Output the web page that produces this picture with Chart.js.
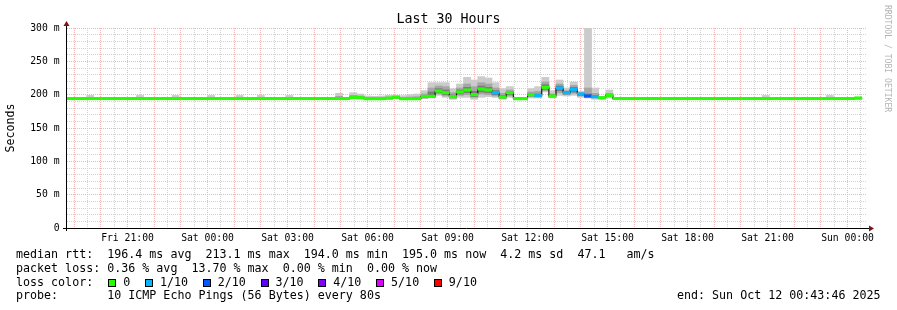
<!DOCTYPE html>
<html>
<head>
<meta charset="utf-8">
<title>Last 30 Hours</title>
<script src="https://cdn.jsdelivr.net/npm/chart.js@4.4.1/dist/chart.umd.min.js"></script>
<style>
  body { margin: 0; background: #fff; }
  #wrap { position: relative; width: 897px; height: 310px; font-family: 'DejaVu Sans Mono', monospace; color: #000; overflow: hidden; }
  #chart { position: absolute; left: 0; top: 0; }
  #title { position: absolute; left: 0; top: 11.4px; width: 897px; text-align: center; font-size: 13.3px; line-height: 16px; }
  .line { position: absolute; left: 16px; font-size: 11.66px; line-height: 13.8px; white-space: pre; display: flex; align-items: flex-start; }
  .box { display: inline-block; width: 6px; height: 6px; border: 1px solid #000; margin-top: 3.7px; margin-right: 7px; }
  .lbl { margin-right: 14.7px; }
  #end { position: absolute; left: 677px; top: 289.4px; font-size: 11.66px; line-height: 13.8px; white-space: pre; }
  #mark { position: absolute; left: 882.5px; top: 5px; writing-mode: vertical-rl; font-size: 8.1px; line-height: 10px; color: #b4b4b4; white-space: pre; }
</style>
</head>
<body>
<div id="wrap">
  <canvas id="chart" width="897" height="310"></canvas>
  <div id="title">Last 30 Hours</div>
  <div class="line" style="top:248.1px">median rtt:  196.4 ms avg  213.1 ms max  194.0 ms min  195.0 ms now  4.2 ms sd  47.1   am/s</div>
  <div class="line" style="top:261.8px">packet loss: 0.36 % avg  13.70 % max  0.00 % min  0.00 % now</div>
  <div class="line" id="lossLine" style="top:275.6px"><span style="margin-right:15.1px">loss color:</span></div>
  <div class="line" style="top:289.4px">probe:       10 ICMP Echo Pings (56 Bytes) every 80s</div>
  <div id="end">end: Sun Oct 12 00:43:46 2025</div>
  <div id="mark">RRDTOOL / TOBI OETIKER</div>
</div>
<script>
// Time window (hours since Fri 00:00): Fri 18:43:46 .. Sun 00:43:46
const viewStart = 18 + 43 / 60 + 46 / 3600;
const viewEnd = viewStart + 30;
// 16-minute consolidation slots, first one starts Fri 18:40
const firstSlotMinutes = 18 * 60 + 40;
const slotMinutes = 16;

// x axis labels
const xTickHours = [21, 24, 27, 30, 33, 36, 39, 42, 45, 48];
const xTickLabels = ['Fri 21:00', 'Sat 00:00', 'Sat 03:00', 'Sat 06:00', 'Sat 09:00',
                     'Sat 12:00', 'Sat 15:00', 'Sat 18:00', 'Sat 21:00', 'Sun 00:00'];
// y axis labels (ms)
const yTickValues = [0, 50, 100, 150, 200, 250, 300];
const yTickLabels = ['0', '50 m', '100 m', '150 m', '200 m', '250 m', '300 m'];

// loss legend
const lossLevels = [0, 1, 2, 3, 4, 5, 9];
const lossLabels = ['0', '1/10', '2/10', '3/10', '4/10', '5/10', '9/10'];
const lossColors = ['#26ff00', '#00b8ff', '#0059ff', '#5e00ff', '#7e00ff', '#dd00ff', '#ff0000'];

// median rtt per slot (ms)
const median = [
  194.2,194.2,194.2,194.2,194.2,194.2,194.2,194.2,194.2,194.2,
  194.2,194.2,194.2,194.2,194.2,194.2,194.2,194.2,194.2,194.2,
  194.2,194.2,194.2,194.2,194.2,194.2,194.2,194.2,194.2,194.2,
  194.2,194.2,194.2,194.2,194.2,194.2,194.2,194.2,194.2,194.2,
  196,195.5,194,194,194,194.8,196.2,194,194,194,
  197.5,197.5,205.5,203,197,204,207,200,208.5,207,
  203,196.5,203,194,194,200,198.5,211,198,210,
  203,208,201,198,197,195.5,199,194.2,194.2,194.2,
  194.2,194.2,194.2,194.2,194.2,194.2,194.2,194.2,194.2,194.2,
  194.2,194.2,194.2,194.2,194.2,194.2,194.2,194.2,194.2,194.2,
  194.2,194.2,194.2,194.2,194.2,194.2,194.2,194.2,194.2,194.2,
  194.2,195
];
// lost pings out of 10 per slot
const lost = [
  0,0,0,0,0,0,0,0,0,0, 0,0,0,0,0,0,0,0,0,0, 0,0,0,0,0,0,0,0,0,0,
  0,0,0,0,0,0,0,0,0,0, 0,0,0,0,0,0,0,0,0,0, 0,0,0,0,0,0,0,0,0,0,
  1,0,0,0,0,0,1,0,0,1, 1,1,1,2,1,0,0,0,0,0,
  0,0,0,0,0,0,0,0,0,0, 0,0,0,0,0,0,0,0,0,0, 0,0,0,0,0,0,0,0,0,0,
  0,0
];
// smoke: outer band (min..max ping)
const smokeLo = [
  193.2,193.2,193.2,193.2,193.2,193.2,193.2,193.2,193.2,193.2,
  193.2,193.2,193.2,193.2,193.2,193.2,193.2,193.2,193.2,193.2,
  193.2,193.2,193.2,193.2,193.2,193.2,193.2,193.2,193.2,193.2,
  193.2,193.2,193.2,193.2,193.2,193.2,193.2,193.2,193.2,193.2,
  193.5,193.5,192.8,192.8,192.8,193,194,192.8,192.8,192.8,
  194,195,199,196,193,196,196,193,196,197,
  196,193,196,193,193,195,195,204,195,199,
  198,199,196,195,193,193,195,193.2,193.2,193.2,
  193.2,193.2,193.2,193.2,193.2,193.2,193.2,193.2,193.2,193.2,
  193.2,193.2,193.2,193.2,193.2,193.2,193.2,193.2,193.2,193.2,
  193.2,193.2,193.2,193.2,193.2,193.2,193.2,193.2,193.2,193.2,
  193.2,193.2
];
const smokeHi = [
  195.6,195.6,195.6,198.8,195.6,195.6,195.6,195.6,195.6,195.6,
  198.8,195.6,195.6,195.6,195.6,198.8,195.6,195.6,195.6,195.6,
  198.8,195.6,195.6,195.6,198.8,195.6,195.6,198.8,195.6,195.6,
  195.6,198.8,195.6,195.6,195.6,195.6,195.6,195.6,202,195.6,
  203,201,198,197.5,198,199,199,198.5,200,201,
  206,218,218,218,209,216,226,222,227,225,
  218,209,212,195.6,195.6,209,212,226,206,222,
  210,219,205,300,210,197.5,207,195.6,195.6,195.6,
  195.6,195.6,195.6,195.6,195.6,195.6,195.6,195.6,195.6,195.6,
  195.6,195.6,195.6,195.6,195.6,195.6,195.6,195.6,198.8,195.6,
  195.6,195.6,195.6,195.6,195.6,195.6,195.6,198.8,195.6,195.6,
  195.6,195.6
];
// smoke: middle band
const midLo = [
  193.6,193.6,193.6,193.6,193.6,193.6,193.6,193.6,193.6,193.6,
  193.6,193.6,193.6,193.6,193.6,193.6,193.6,193.6,193.6,193.6,
  193.6,193.6,193.6,193.6,193.6,193.6,193.6,193.6,193.6,193.6,
  193.6,193.6,193.6,193.6,193.6,193.6,193.6,193.6,193.6,193.6,
  194.5,194,193.6,193.6,193.6,193.8,194.5,193.6,193.6,193.6,
  195,196,201,198,194.5,199,200,196,201,200,
  198,194.5,198,193.6,193.6,197,196.5,206,196,203,
  200,202,198,196,195,194,196.5,193.6,193.6,193.6,
  193.6,193.6,193.6,193.6,193.6,193.6,193.6,193.6,193.6,193.6,
  193.6,193.6,193.6,193.6,193.6,193.6,193.6,193.6,193.6,193.6,
  193.6,193.6,193.6,193.6,193.6,193.6,193.6,193.6,193.6,193.6,
  193.6,193.6
];
const midHi = [
  195.3,195.3,195.3,195.3,195.3,195.3,195.3,195.3,195.3,195.3,
  195.3,195.3,195.3,195.3,195.3,195.3,195.3,195.3,195.3,195.3,
  195.3,195.3,195.3,195.3,195.3,195.3,195.3,195.3,195.3,195.3,
  195.3,195.3,195.3,195.3,195.3,195.3,195.3,195.3,197.5,195.3,
  199,198,195.3,195.3,195.3,196.5,197.5,195.3,196.5,197,
  201,210,213,212,203,210,216,212,218,216,
  210,202,207,195.3,195.3,204,205,219,201,216,
  206,214,203,210,202,196.5,202,195.3,195.3,195.3,
  195.3,195.3,195.3,195.3,195.3,195.3,195.3,195.3,195.3,195.3,
  195.3,195.3,195.3,195.3,195.3,195.3,195.3,195.3,195.3,195.3,
  195.3,195.3,195.3,195.3,195.3,195.3,195.3,195.3,195.3,195.3,
  195.3,195.3
];
// smoke: inner band
const innerLo = [
  193.9,193.9,193.9,193.9,193.9,193.9,193.9,193.9,193.9,193.9,
  193.9,193.9,193.9,193.9,193.9,193.9,193.9,193.9,193.9,193.9,
  193.9,193.9,193.9,193.9,193.9,193.9,193.9,193.9,193.9,193.9,
  193.9,193.9,193.9,193.9,193.9,193.9,193.9,193.9,193.9,193.9,
  195,194.5,193.9,193.9,193.9,194,195,193.9,193.9,193.9,
  196,196.5,203,200,195.5,201,203,197,204,203,
  200,195,200,193.9,193.9,198,197,208,197,206,
  201,204,199,196.5,195.5,194.5,197,193.9,193.9,193.9,
  193.9,193.9,193.9,193.9,193.9,193.9,193.9,193.9,193.9,193.9,
  193.9,193.9,193.9,193.9,193.9,193.9,193.9,193.9,193.9,193.9,
  193.9,193.9,193.9,193.9,193.9,193.9,193.9,193.9,193.9,193.9,
  193.9,193.9
];
const innerHi = [
  195,195,195,195,195,195,195,195,195,195,
  195,195,195,195,195,195,195,195,195,195,
  195,195,195,195,195,195,195,195,195,195,
  195,195,195,195,195,195,195,195,195,195,
  197.5,197,195,195,195,195.8,196.8,195,195,195.6,
  199,204,209,207,199.5,207,211,205,213,211,
  206,199,205,195,195,202,201,215,199.5,213,
  205,211,202,201,199,196,200.5,195,195,195,
  195,195,195,195,195,195,195,195,195,195,
  195,195,195,195,195,195,195,195,195,195,
  195,195,195,195,195,195,195,195,195,195,
  195,195
];

const slotHours = median.map((_, i) => (firstSlotMinutes + (i + 0.5) * slotMinutes) / 60);
const band = 1.8; // half height of the coloured median bar

function lossColor(n) {
  let c = lossColors[0];
  lossLevels.forEach((lvl, k) => { if (n >= lvl) c = lossColors[k]; });
  return c;
}
function ranges(lo, hi) {
  return slotHours.map((x, i) => ({ x: x, y: [lo[i], hi[i]] }));
}

// legend boxes
const lossLine = document.getElementById('lossLine');
lossLabels.forEach((lbl, k) => {
  const b = document.createElement('span');
  b.className = 'box';
  b.style.background = lossColors[k];
  lossLine.appendChild(b);
  const t = document.createElement('span');
  t.className = 'lbl';
  t.textContent = lbl;
  lossLine.appendChild(t);
});

const minorGrid = '#d2d2d2';
const majorGrid = '#f5b4b4';

const axisArrows = {
  id: 'axisArrows',
  afterDraw(chart) {
    const { ctx, chartArea: a } = chart;
    ctx.save();
    ctx.strokeStyle = '#000';
    ctx.lineWidth = 1;
    ctx.beginPath();
    ctx.moveTo(a.left - 0.5, a.bottom + 3);
    ctx.lineTo(a.left - 0.5, a.top - 3);
    ctx.moveTo(a.left - 4, a.bottom + 0.5);
    ctx.lineTo(a.right + 3, a.bottom + 0.5);
    ctx.stroke();
    ctx.fillStyle = '#801414';
    ctx.beginPath();
    ctx.moveTo(a.left - 0.5, a.top - 7);
    ctx.lineTo(a.left - 3.5, a.top - 2);
    ctx.lineTo(a.left + 2.5, a.top - 2);
    ctx.fill();
    ctx.beginPath();
    ctx.moveTo(a.right + 7, a.bottom + 0.5);
    ctx.lineTo(a.right + 2, a.bottom - 2.5);
    ctx.lineTo(a.right + 2, a.bottom + 3.5);
    ctx.fill();
    ctx.restore();
  }
};

Chart.defaults.font.family = "'DejaVu Sans Mono', monospace";
Chart.defaults.color = '#000';

const barCommon = {
  type: 'bar', grouped: false, barPercentage: 1, categoryPercentage: 1,
  borderWidth: 0, inflateAmount: 0.35
};

new Chart(document.getElementById('chart'), {
  type: 'bar',
  data: {
    datasets: [
      Object.assign({ label: 'smoke outer', data: ranges(smokeLo, smokeHi), backgroundColor: '#cbcbcb', order: 6 }, barCommon),
      Object.assign({ label: 'smoke mid', data: ranges(midLo, midHi), backgroundColor: '#a6a6a6', order: 5 }, barCommon),
      Object.assign({ label: 'smoke inner', data: ranges(innerLo, innerHi), backgroundColor: '#7c7c7c', order: 4 }, barCommon),
      {
        type: 'line', label: 'median', order: 3,
        data: slotHours.map((x, i) => ({ x: x, y: median[i] })),
        borderColor: '#000', borderWidth: 1, pointRadius: 0, stepped: 'middle', fill: false
      },
      Object.assign({
        label: 'median loss', order: 1,
        data: slotHours.map((x, i) => ({ x: x, y: [median[i] - band, median[i] + band] })),
        backgroundColor: lost.map(lossColor)
      }, barCommon)
    ]
  },
  options: {
    responsive: false,
    devicePixelRatio: 1,
    animation: false,
    events: [],
    layout: { padding: { top: 28, right: 30, bottom: 60, left: 0 } },
    plugins: { legend: { display: false }, tooltip: { enabled: false }, title: { display: false } },
    scales: {
      x: {
        type: 'linear', min: viewStart, max: viewEnd, offset: false,
        afterBuildTicks(scale) {
          const t = [];
          for (let h = 19; h <= 48.5; h += 0.5) t.push({ value: h });
          scale.ticks = t;
        },
        afterFit(scale) { scale.height = 22; },
        ticks: {
          autoSkip: false, maxRotation: 0, padding: 4.5, font: { size: 9.75 },
          callback(v) { const k = xTickHours.indexOf(v); return k >= 0 ? xTickLabels[k] : ''; }
        },
        grid: {
          offset: false, drawTicks: false, lineWidth: 1,
          color: ctx => (ctx.tick && Number.isInteger(ctx.tick.value)) ? majorGrid : minorGrid
        },
        border: { display: false, dash: [1, 1] }
      },
      y: {
        min: 0, max: 300,
        afterFit(scale) { scale.width = 67; },
        ticks: {
          stepSize: 10, autoSkip: false, padding: 7.5, font: { size: 9.75 },
          callback(v) { const k = yTickValues.indexOf(v); return k >= 0 ? yTickLabels[k] : ''; }
        },
        grid: {
          drawTicks: false, lineWidth: 1,
          color: ctx => (ctx.tick && ctx.tick.value % 50 === 0) ? majorGrid : minorGrid
        },
        border: { display: false, dash: [1, 1] },
        title: { display: true, text: 'Seconds', font: { size: 11.6 }, padding: { top: 4, bottom: 4 } }
      }
    }
  },
  plugins: [axisArrows]
});
</script>
</body>
</html>
